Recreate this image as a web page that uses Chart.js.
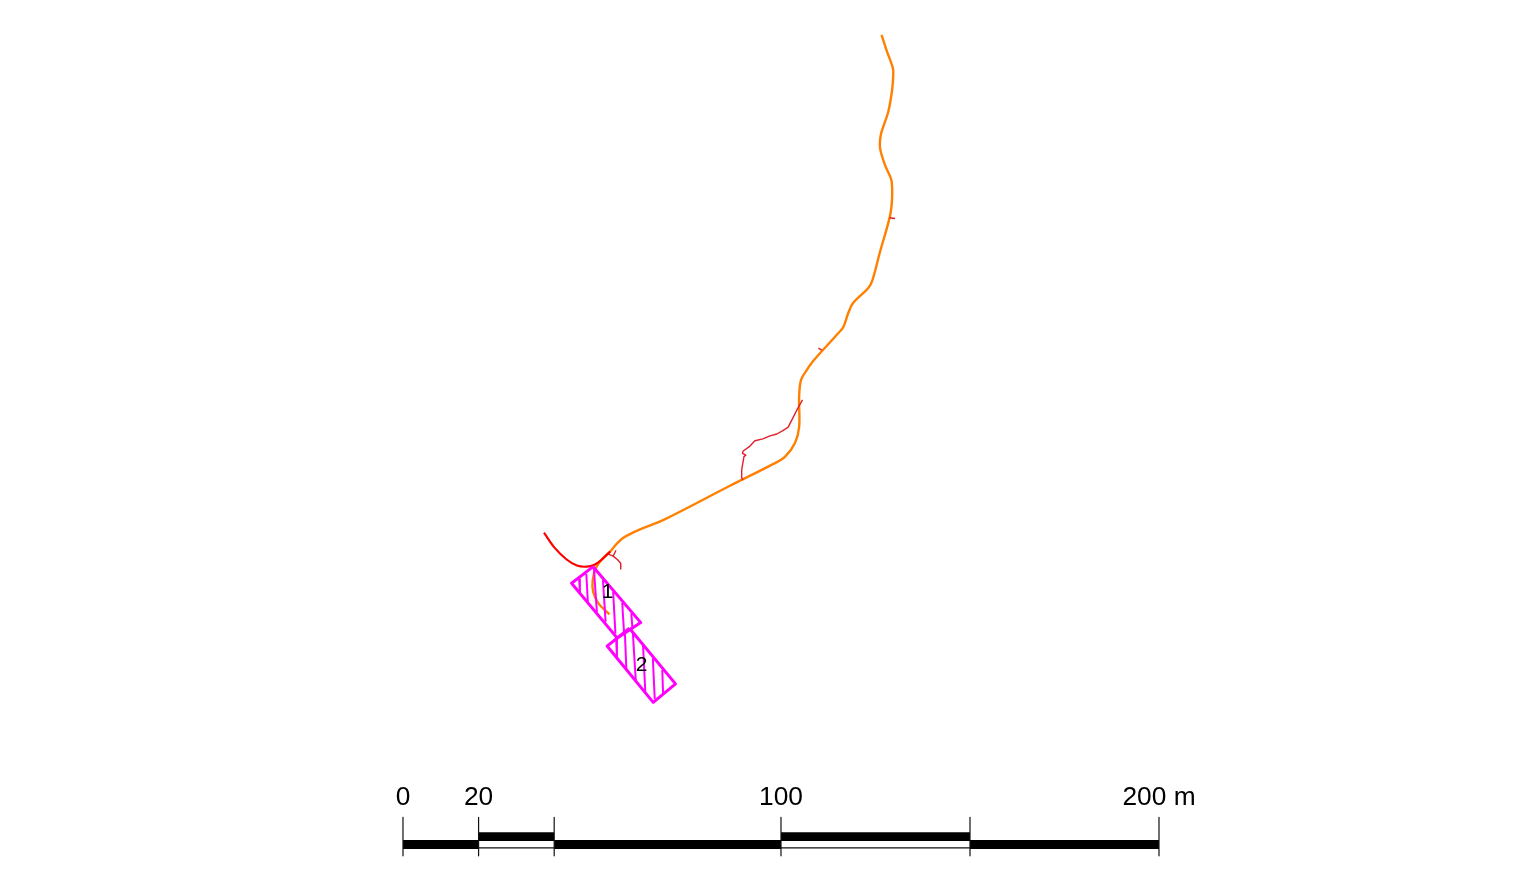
<!DOCTYPE html>
<html>
<head>
<meta charset="utf-8">
<title>Route map</title>
<script src="https://cdn.jsdelivr.net/npm/chart.js@4"></script>
<style>
  html, body { margin: 0; padding: 0; background: #fff; overflow: hidden; }
  canvas { display: block; }
</style>
</head>
<body>
<canvas id="mapChart" width="1530" height="891"></canvas>
<script>
// everything is in metres, origin at the left end of the scale bar
const mainRoute = [
  [126.6,214.2],[128.0,209.9],[129.6,205.4],[129.7,203.6],[129.4,199.6],[128.4,193.9],[127.2,190.3],
  [126.4,187.7],[126.2,184.3],[127.5,179.8],[128.8,176.9],[129.3,175.3],[129.4,171.0],[128.8,166.1],
  [126.2,156.8],[124.2,149.3],[123.1,147.2],[119.1,143.3],[117.8,140.6],[116.5,136.9],[115.2,135.3],
  [111.1,130.8],[108.1,127.4],[106.8,125.5],[105.3,122.9],[104.8,118.5],[104.8,110.5],[103.7,106.2],
  [101.1,102.6],[98.0,100.7],[86.5,94.9],[68.8,85.8],[63.5,83.7],[60.8,82.5],[58.2,81.1],[56.5,79.5],
  [54.8,77.5],[52.9,75.7],[51.2,73.5],[50.2,70.0],[50.3,66.9],[51.7,63.8],[54.6,60.9]
];
const redRoute = [
  [37.3,82.5],[40.2,78.4],[43.3,75.4],[46.0,73.8],[48.6,73.5],[50.8,74.1],[52.6,75.4],[54.8,77.5]
];
const midSpur = [
  [105.7,117.6],[104.5,115.5],[101.9,110.4],[100.5,109.5],[98.9,108.6],[97.1,108.1],[95.2,107.3],
  [93.1,106.8],[91.8,105.4],[90.0,104.1],[89.8,103.5],[90.7,103.0],[90.2,102.6],[89.6,99.1],
  [89.6,97.1],[89.9,96.4]
];
const lowSpur = [
  [54.3,76.8],[55.6,76.3],[56.3,77.7],[55.6,76.3],[56.7,75.4],[57.6,74.4],[57.6,72.9]
];
const upperStub = [[128.7,165.8],[130.2,165.6]];
const middleStub = [[109.9,131.3],[110.8,130.8]];

const block1 = [[50.3,73.5],[44.6,69.1],[56.7,54.6],[62.9,58.7],[50.3,73.5]];
const block2 = [[59.9,57.2],[54.0,52.5],[66.2,37.6],[72.1,42.5],[59.9,57.2]];
const block1Hatch = [
  [[46.6,70.2],[46.8,66.8]], [[48.5,71.6],[48.9,64.3]], [[50.5,73.1],[51.3,61.5]], [[52.9,70.0],[53.6,58.9]],
  [[55.6,66.8],[56.2,55.8]], [[58.0,63.9],[58.5,55.8]], [[60.4,61.1],[60.7,57.3]]
];
const block2Hatch = [
  [[56.4,54.6],[56.6,49.3]], [[58.7,56.1],[59.1,46.2]], [[60.8,56.2],[61.6,43.1]], [[63.5,52.8],[64.1,40.4]],
  [[66.1,49.3],[66.6,38.5]], [[68.6,46.2],[68.8,40.0]]
];
const blockLabels = [["1",54.1,65.1],["2",63.1,45.9]];

const scaleBreaks = [0, 20, 40, 100, 150, 200];
const scaleLabels = [["0",0],["20",20],["100",100],["200 m",200]];

function toPoints(list) {
  return list.map(p => ({ x: p[0], y: p[1] }));
}

function lineSet(label, list, color, width, tension) {
  return {
    label: label,
    data: toPoints(list),
    showLine: true,
    borderColor: color,
    borderWidth: width,
    borderCapStyle: "butt",
    borderJoinStyle: "round",
    tension: tension || 0,
    pointRadius: 0
  };
}

const datasets = [];

// scale bar
scaleBreaks.forEach(b => {
  datasets.push(lineSet("tick " + b, [[b, 7.2], [b, -3]], "#111", 1.2));
});
for (let i = 0; i < scaleBreaks.length - 1; i++) {
  const from = scaleBreaks[i], to = scaleBreaks[i + 1];
  if (i % 2 === 0) {
    datasets.push(lineSet("bar " + from, [[from, 0], [to, 0]], "#000", 9));
  } else {
    datasets.push(lineSet("bar " + from, [[from, 2.1], [to, 2.1]], "#000", 8.7));
    datasets.push(lineSet("base " + from, [[from, -0.9], [to, -0.9]], "#111", 1.2));
  }
}

// blocks and hatching
block1Hatch.concat(block2Hatch).forEach((h, i) => {
  datasets.push(lineSet("hatch " + i, h, "#FF00FF", 2));
});
datasets.push(lineSet("block 1", block1, "#FF00FF", 3));
datasets.push(lineSet("block 2", block2, "#FF00FF", 3));

// routes
datasets.push(lineSet("red route", redRoute, "#FF0000", 2.2, 0.35));
datasets.push(lineSet("mid spur", midSpur, "#E0202A", 1.4));
datasets.push(lineSet("low spur", lowSpur, "#E0202A", 1.4));
datasets.push(lineSet("upper stub", upperStub, "#E0202A", 1.4));
datasets.push(lineSet("middle stub", middleStub, "#E0202A", 1.4));
datasets.push(lineSet("main route", mainRoute, "#FF8000", 2.4, 0.35));

const mapText = {
  id: "mapText",
  afterDatasetsDraw(chart) {
    const ctx = chart.ctx;
    const xs = chart.scales.x;
    const ys = chart.scales.y;
    ctx.save();
    ctx.fillStyle = "#000";
    ctx.textAlign = "center";
    ctx.textBaseline = "alphabetic";
    ctx.font = '26.3px "Liberation Sans", Arial, sans-serif';
    scaleLabels.forEach(l => {
      ctx.fillText(l[0], xs.getPixelForValue(l[1]), ys.getPixelForValue(10.35));
    });
    ctx.font = '21px "Liberation Sans", Arial, sans-serif';
    blockLabels.forEach(l => {
      ctx.fillText(l[0], xs.getPixelForValue(l[1]), ys.getPixelForValue(l[2]));
    });
    ctx.restore();
  }
};

new Chart(document.getElementById("mapChart"), {
  type: "scatter",
  data: { datasets: datasets },
  plugins: [mapText],
  options: {
    responsive: false,
    animation: false,
    layout: { padding: 0 },
    plugins: {
      legend: { display: false },
      tooltip: { enabled: false }
    },
    scales: {
      x: { type: "linear", display: false, min: -106.61, max: 298.15 },
      y: { type: "linear", display: false, min: -12.3, max: 223.41 }
    }
  }
});
</script>
</body>
</html>
